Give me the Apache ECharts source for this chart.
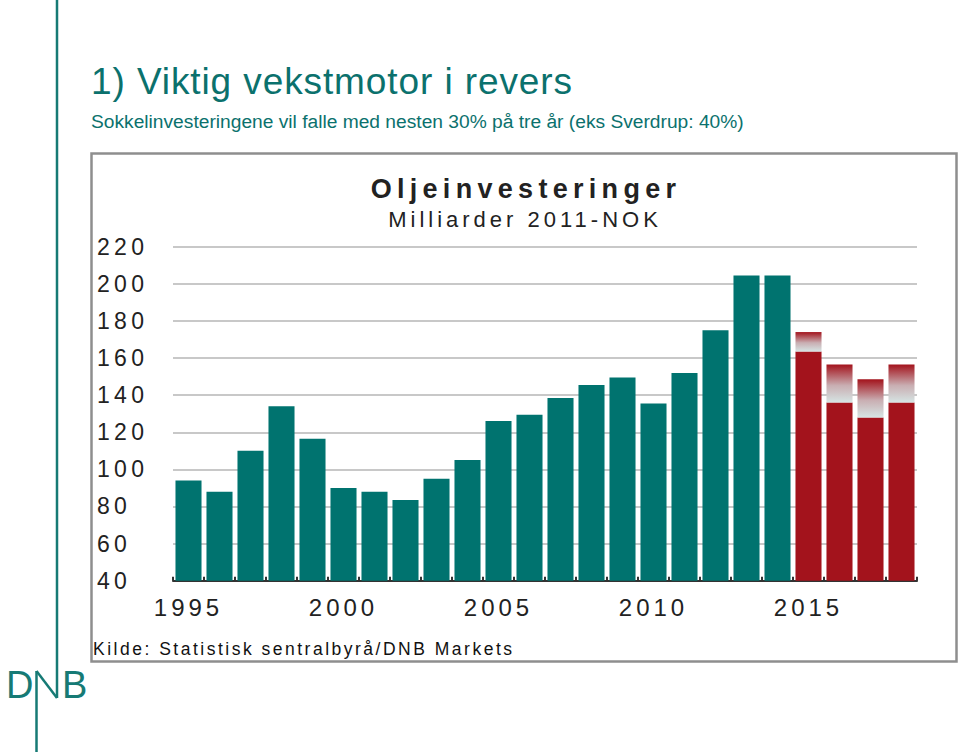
<!DOCTYPE html>
<html>
<head>
<meta charset="utf-8">
<script src="https://cdn.jsdelivr.net/npm/echarts@6/dist/echarts.min.js"></script>
<style>
html,body{margin:0;padding:0;background:#fff;}
#c{width:960px;height:752px;}
#c text[style*="27px"]{letter-spacing:5.3px;}
#c text[style*="22px"]{letter-spacing:4px;}
#c text[style*="23px"]{letter-spacing:4.3px;}
#c text[style*="24px"]{letter-spacing:4px;}
#c text[style*="17.5px"]{letter-spacing:2.5px;}
#c text[style*="37px"]{letter-spacing:0.9px;}
</style>
</head>
<body>
<div id="c"></div>
<script>
// ---- data ----
const years = ['1995','1996','1997','1998','1999','2000','2001','2002','2003','2004','2005','2006','2007','2008','2009','2010','2011','2012','2013','2014','2015','2016','2017','2018'];
const history = [94, 88, 110, 134, 116.5, 90, 88, 83.5, 95, 105, 126, 129.5, 138.5, 145.5, 149.5, 135.5, 152, 175, 204.5, 204.5];
const forecastLow = [163.5, 136, 128, 136];
const forecastHigh = [174, 156.5, 148.5, 156.5];
const yTicks = [40, 220, 20];

const TEAL = '#00736f';
const RED = '#a3131c';
const FONT = '"Liberation Sans", Arial, Helvetica, sans-serif';

const nHist = history.length;
const histData = years.map((y, i) => i < nHist ? history[i] : '-');
const lowData = years.map((y, i) => i < nHist ? '-' : forecastLow[i - nHist]);
const rangeData = years.map((y, i) => i < nHist ? '-' : +(forecastHigh[i - nHist] - forecastLow[i - nHist]).toFixed(2));

const chart = echarts.init(document.getElementById('c'), null, {renderer: 'svg', width: 960, height: 752});

const option = {
  backgroundColor: '#ffffff',
  animation: false,
  grid: {left: 173, right: 43, top: 246.7, bottom: 171.3, containLabel: false},
  xAxis: {
    type: 'category',
    data: years,
    boundaryGap: true,
    axisLine: {show: true, lineStyle: {color: '#333', width: 2}},
    axisTick: {show: true, inside: true, length: 4, interval: 0, lineStyle: {color: '#333', width: 2}},
    axisLabel: {interval: 4, margin: 15, color: '#222', fontSize: 24, fontFamily: FONT},
    splitLine: {show: false}
  },
  yAxis: {
    type: 'value',
    min: yTicks[0], max: yTicks[1], interval: yTicks[2],
    axisLine: {show: false},
    axisTick: {show: false},
    axisLabel: {align: 'left', margin: 76, color: '#222', fontSize: 23, fontFamily: FONT},
    splitLine: {show: true, lineStyle: {color: '#c8c8c8', width: 2}}
  },
  series: [
    {type: 'bar', name: 'hist', stack: 's', data: histData, barCategoryGap: '16%',
     itemStyle: {color: TEAL}},
    {type: 'bar', name: 'low', stack: 's', data: lowData,
     itemStyle: {color: RED}},
    {type: 'bar', name: 'range', stack: 's', data: rangeData,
     itemStyle: {color: new echarts.graphic.LinearGradient(0, 0, 0, 1, [
       {offset: 0, color: '#a3131c'},
       {offset: 0.55, color: '#c9aeb2'},
       {offset: 1, color: '#d6e5e4'}
     ])}}
  ],
  graphic: [
    // frame
    {type: 'rect', z: -1, shape: {x: 91.5, y: 153.5, width: 865, height: 508},
     style: {fill: '#fff', stroke: '#8e8e8e', lineWidth: 2.5}},
    // long vertical line + logo
    {type: 'line', shape: {x1: 57, y1: 0, x2: 57, y2: 698}, style: {stroke: '#167a75', lineWidth: 2.5}},
    {type: 'line', shape: {x1: 36.5, y1: 671, x2: 36.5, y2: 752}, style: {stroke: '#167a75', lineWidth: 2.5}},
    {type: 'line', shape: {x1: 36.5, y1: 671, x2: 57, y2: 698}, style: {stroke: '#167a75', lineWidth: 2.5}},
    {type: 'text', style: {text: 'D', x: 6, y: 685, font: '38px ' + FONT, fill: '#167a75', align: 'left', verticalAlign: 'middle'}},
    {type: 'text', style: {text: 'B', x: 62, y: 685, font: '38px ' + FONT, fill: '#167a75', align: 'left', verticalAlign: 'middle'}},
    // titles
    {type: 'text', style: {text: '1) Viktig vekstmotor i revers', x: 91, y: 81, font: '37px ' + FONT, fill: '#0b716d', align: 'left', verticalAlign: 'middle'}},
    {type: 'text', style: {text: 'Sokkelinvesteringene vil falle med nesten 30% på tre år (eks Sverdrup: 40%)', x: 91, y: 121, font: '19.2px ' + FONT, fill: '#0b716d', align: 'left', verticalAlign: 'middle'}},
    {type: 'text', style: {text: 'Oljeinvesteringer', x: 526, y: 189, font: 'bold 27px ' + FONT, fill: '#222', align: 'center', verticalAlign: 'middle'}},
    {type: 'text', style: {text: 'Milliarder 2011-NOK', x: 525, y: 219, font: '22px ' + FONT, fill: '#222', align: 'center', verticalAlign: 'middle'}},
    {type: 'text', style: {text: 'Kilde: Statistisk sentralbyrå/DNB Markets', x: 93, y: 649, font: '17.5px ' + FONT, fill: '#111', align: 'left', verticalAlign: 'middle'}}
  ]
};
chart.setOption(option);
</script>
</body>
</html>
